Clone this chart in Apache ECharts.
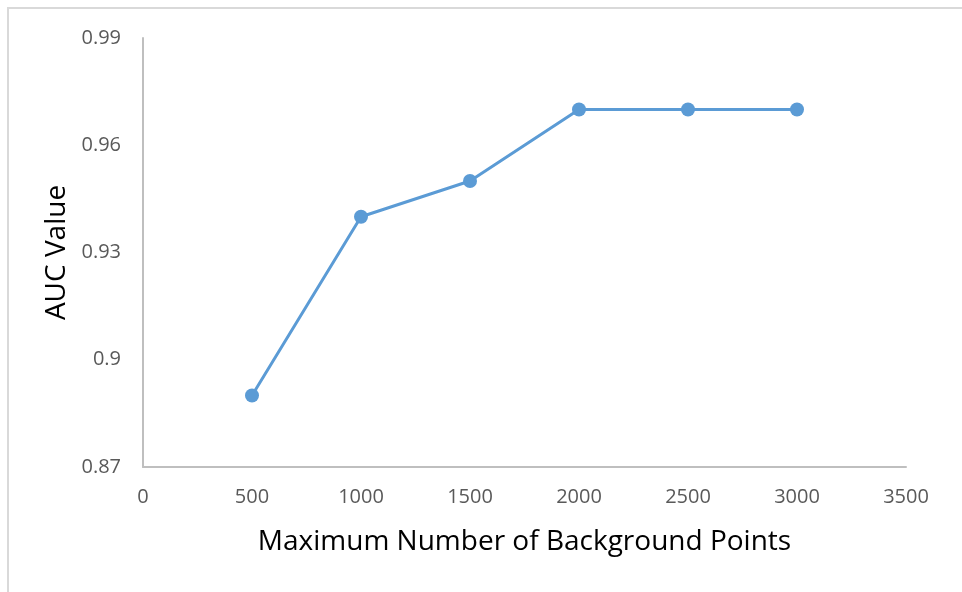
<!DOCTYPE html>
<html>
<head>
<meta charset="utf-8">
<script src="https://cdn.jsdelivr.net/npm/echarts@6/dist/echarts.min.js"></script>
<style>
html,body{margin:0;padding:0;background:#fff;}
#chart{width:962px;height:592px;}
</style>
</head>
<body>
<div id="chart"></div>
<script>
const xValues = [500, 1000, 1500, 2000, 2500, 3000];
const aucValues = [0.89, 0.94, 0.95, 0.97, 0.97, 0.97];
const xTitle = 'Maximum Number of Background Points';
const yTitle = 'AUC Value';

const chart = echarts.init(document.getElementById('chart'), null, {renderer: 'canvas'});
const font = '"Open Sans", "DejaVu Sans", sans-serif';
chart.setOption({
  animation: false,
  backgroundColor: '#fff',
  graphic: [{
    type: 'rect',
    shape: {x: 8, y: 8, width: 1200, height: 1200},
    style: {fill: 'none', stroke: '#d9d9d9', lineWidth: 2},
    silent: true
  }],
  grid: {left: 143, top: 38, right: 56, bottom: 125, containLabel: false},
  xAxis: {
    type: 'value', min: 0, max: 3500, interval: 500,
    name: xTitle, nameLocation: 'middle', nameGap: 61,
    nameTextStyle: {fontFamily: font, fontSize: 28, color: '#000'},
    axisLine: {show: true, lineStyle: {color: '#bfbfbf', width: 2}},
    axisTick: {show: false},
    splitLine: {show: false},
    axisLabel: {fontFamily: font, fontSize: 20, color: '#595959', margin: 20,
      formatter: v => String(v)}
  },
  yAxis: {
    type: 'value', min: 0.87, max: 0.99, interval: 0.03,
    name: yTitle, nameLocation: 'middle', nameGap: 72,
    nameTextStyle: {fontFamily: font, fontSize: 28, color: '#000'},
    axisLine: {show: true, lineStyle: {color: '#bfbfbf', width: 2}},
    axisTick: {show: false},
    splitLine: {show: false},
    axisLabel: {fontFamily: font, fontSize: 20, color: '#595959', margin: 22,
      formatter: v => String(parseFloat(v.toFixed(2)))}
  },
  series: [{
    type: 'line',
    data: xValues.map((x, i) => [x, aucValues[i]]),
    symbol: 'circle', symbolSize: 14,
    lineStyle: {color: '#5b9bd5', width: 3},
    itemStyle: {color: '#5b9bd5'}
  }]
});
</script>
</body>
</html>
